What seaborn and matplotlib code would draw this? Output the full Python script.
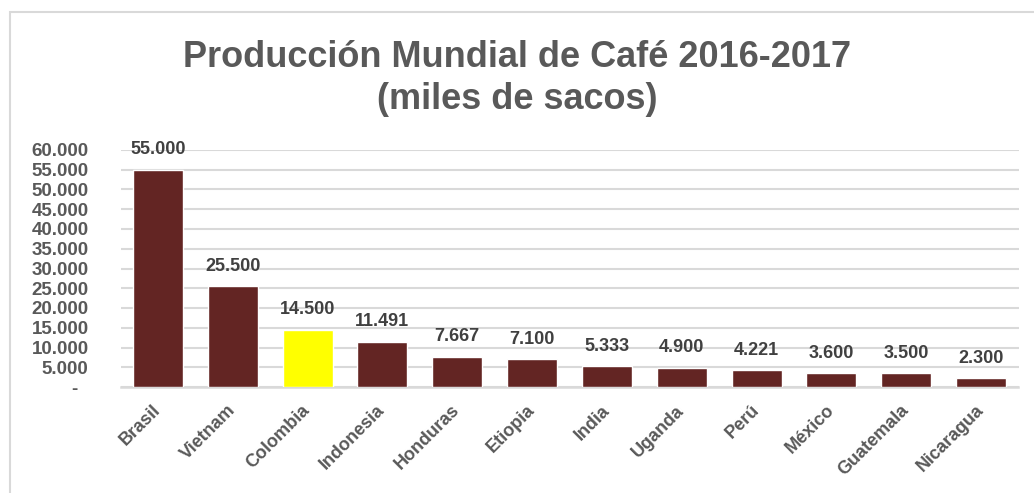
import matplotlib
matplotlib.use("Agg")
import matplotlib.pyplot as plt
import pandas as pd
import seaborn as sns

# Data (miles de sacos)
paises = ['Brasil', 'Vietnam', 'Colombia', 'Indonesia', 'Honduras', 'Etiopia',
          'India', 'Uganda', 'Perú', 'México', 'Guatemala', 'Nicaragua']
produccion = [55000, 25500, 14500, 11491, 7667, 7100,
              5333, 4900, 4221, 3600, 3500, 2300]
destacado = 'Colombia'
y_ticks = list(range(0, 60001, 5000))

bar_color = '#632523'
hi_color = '#FFFF00'
text_gray = '#595959'
grid_gray = '#D9D9D9'


def miles(v):
    return f'{int(v):,}'.replace(',', '.')


sns.set_theme(style='white')
plt.rcParams['font.family'] = ['Liberation Sans', 'DejaVu Sans']

df = pd.DataFrame({'Pais': paises, 'Produccion': produccion})
palette = {p: (hi_color if p == destacado else bar_color) for p in paises}

fig = plt.figure(figsize=(10.34, 4.93), dpi=100)
W, H = 1034, 493
ax = fig.add_axes([120.5 / W, 1 - 387 / H, (1018.5 - 120.5) / W, (387 - 150) / H])

# chart border
fig.patches.append(plt.Rectangle((9.5 / W, -0.05), 1.1, 1 - 12.5 / H + 0.05,
                                 transform=fig.transFigure, fill=False,
                                 edgecolor=grid_gray, linewidth=1.5))

sns.barplot(data=df, x='Pais', y='Produccion', hue='Pais', palette=palette,
            legend=False, width=0.67, saturation=1, ax=ax, zorder=3)

ax.set_ylim(0, 60000)
ax.set_xlim(-0.5, len(paises) - 0.5)
ax.tick_params(axis='y', length=0, pad=23, labelcolor=text_gray)
ax.tick_params(axis='x', length=0, pad=15, labelcolor=text_gray)
ax.set_yticks(y_ticks, ['-  ' if t == 0 else miles(t) for t in y_ticks])
ax.set_xticks(range(len(paises)), paises)
ax.grid(axis='y', color=grid_gray, linewidth=1.5, zorder=0)
ax.set_axisbelow(True)
for s in ['top', 'right', 'left']:
    ax.spines[s].set_visible(False)
ax.spines['bottom'].set_color(grid_gray)
ax.spines['bottom'].set_linewidth(1.8)
ax.set_xlabel('')
ax.set_ylabel('')

for lbl in ax.get_yticklabels():
    lbl.set_fontweight('bold')
    lbl.set_fontsize(13.5)
for lbl in ax.get_xticklabels():
    lbl.set_fontweight('bold')
    lbl.set_fontsize(13)
    lbl.set_rotation(45)
    lbl.set_ha('right')
    lbl.set_va('center')
    lbl.set_rotation_mode('anchor')

# value labels
for i, v in enumerate(produccion):
    ax.annotate(miles(v), (i, v), xytext=(0, 11),
                textcoords='offset points', ha='center', va='baseline',
                fontsize=13, fontweight='bold', color='#404040')

fig.text(0.5, 1 - 67 / H, 'Producción Mundial de Café 2016-2017',
         ha='center', va='baseline', fontsize=26, fontweight='bold', color=text_gray)
fig.text(0.5, 1 - 109 / H, '(miles de sacos)',
         ha='center', va='baseline', fontsize=26, fontweight='bold', color=text_gray)

fig.savefig('out.png', dpi=100)
